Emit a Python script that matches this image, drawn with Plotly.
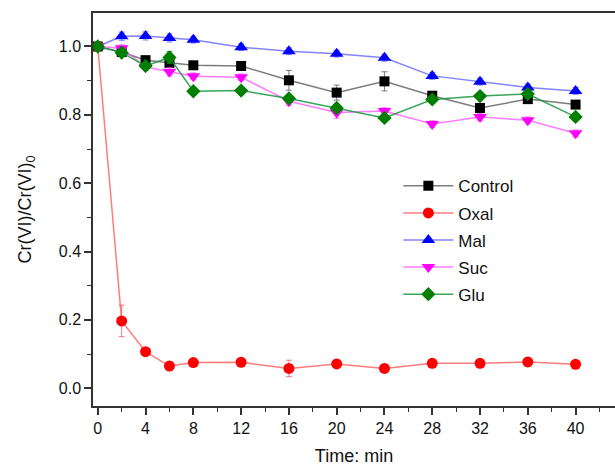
import plotly.graph_objects as go

time = [0, 2, 4, 6, 8, 12, 16, 20, 24, 28, 32, 36, 40]

control = [1.0, 0.984, 0.960, 0.952, 0.945, 0.943, 0.901, 0.865, 0.898, 0.856, 0.820, 0.846, 0.830]
control_err = [0.005, 0.01, 0.01, 0.01, 0.01, 0.01, 0.029, 0.022, 0.028, 0.012, 0.012, 0.012, 0.01]

oxal = [1.0, 0.197, 0.107, 0.065, 0.075, 0.076, 0.058, 0.071, 0.058, 0.073, 0.073, 0.077, 0.070]
oxal_err = [0.005, 0.046, 0.008, 0.006, 0.006, 0.008, 0.024, 0.008, 0.006, 0.006, 0.006, 0.006, 0.006]

mal = [1.0, 1.030, 1.031, 1.025, 1.020, 0.998, 0.986, 0.979, 0.967, 0.914, 0.897, 0.880, 0.870]
mal_err = [0.005, 0.012, 0.012, 0.012, 0.01, 0.01, 0.01, 0.01, 0.01, 0.01, 0.01, 0.01, 0.01]

suc = [1.0, 0.995, 0.940, 0.926, 0.913, 0.910, 0.840, 0.807, 0.811, 0.773, 0.794, 0.784, 0.746]
suc_err = [0.005, 0.01, 0.01, 0.012, 0.01, 0.01, 0.012, 0.017, 0.01, 0.01, 0.01, 0.01, 0.01]

glu = [1.0, 0.982, 0.943, 0.968, 0.869, 0.871, 0.848, 0.820, 0.791, 0.845, 0.855, 0.861, 0.794]
glu_err = [0.005, 0.01, 0.01, 0.017, 0.01, 0.01, 0.01, 0.01, 0.01, 0.01, 0.01, 0.01, 0.01]

series = [
    ("Control", control, control_err, "#000000", "rgba(80,80,80,0.75)", "square", 10),
    ("Oxal", oxal, oxal_err, "#ff0000", "rgba(255,80,80,0.75)", "circle", 11),
    ("Mal", mal, mal_err, "#0000ff", "rgba(90,90,255,0.75)", "triangle-up", 12),
    ("Suc", suc, suc_err, "#ff00ff", "rgba(255,80,255,0.75)", "triangle-down", 12),
    ("Glu", glu, glu_err, "#007f00", "rgba(20,150,60,0.85)", "diamond", 11),
]

fig = go.Figure()
for name, vals, errs, mcol, lcol, sym, size in series:
    fig.add_trace(go.Scatter(
        x=time, y=vals, name=name, legendgroup=name, mode="lines+markers",
        line=dict(color=lcol, width=1.5),
        marker=dict(color=mcol, symbol=sym, size=size, line=dict(width=0)),
        error_y=dict(type="data", array=errs, visible=True, color=lcol, thickness=1, width=3),
    ))

font = "Liberation Sans, Arial, sans-serif"
fig.update_layout(
    width=615, height=468,
    margin=dict(l=93, r=0, t=13, b=62),
    paper_bgcolor="white", plot_bgcolor="white",
    font=dict(family=font, size=16, color="#111"),
    showlegend=True,
    legend=dict(x=0.585, y=0.605, xanchor="left", yanchor="top",
                font=dict(size=17, color="#111"), itemwidth=50,
                bgcolor="rgba(0,0,0,0)", tracegroupgap=2),
    xaxis=dict(range=[-0.4, 43.3], tickvals=[0, 4, 8, 12, 16, 20, 24, 28, 32, 36, 40],
               ticks="outside", ticklen=7, tickwidth=1.5, tickcolor="#333",
               showline=True, linecolor="#333", linewidth=1.5, mirror=True,
               showgrid=False, zeroline=False,
               minor=dict(dtick=2, tick0=0, ticks="outside", ticklen=4, tickwidth=1.2, tickcolor="#333", showgrid=False),
               title=dict(text="Time: min", font=dict(size=18), standoff=13),
               tickfont=dict(size=16)),
    yaxis=dict(range=[-0.052, 1.098], tickvals=[0.0, 0.2, 0.4, 0.6, 0.8, 1.0],
               ticktext=["0.0", "0.2", "0.4", "0.6", "0.8", "1.0"],
               ticks="outside", ticklen=7, tickwidth=1.5, tickcolor="#333",
               showline=True, linecolor="#333", linewidth=1.5, mirror=False,
               showgrid=False, zeroline=False,
               minor=dict(dtick=0.1, tick0=0, ticks="outside", ticklen=4, tickwidth=1.2, tickcolor="#333", showgrid=False),
               title=dict(text="Cr(VI)/Cr(VI)<sub>0</sub>", font=dict(size=18), standoff=22),
               tickfont=dict(size=16)),
)

fig.write_html("out.html")
